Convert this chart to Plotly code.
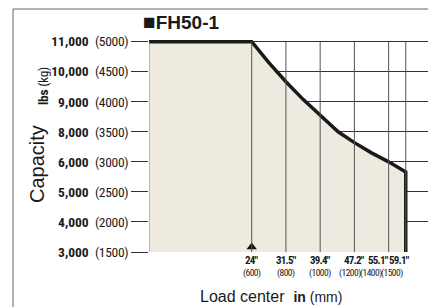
import plotly.graph_objects as go

# ---- data ----
load_center_mm = [0, 600, 700, 746, 800, 900, 1000, 1105, 1200, 1300, 1400, 1500, 1500]
capacity_kg = [5000, 5000, 4650, 4500, 4333, 4040, 3767, 3500, 3320, 3150, 3000, 2833, 1500]

x_ticks_mm = [600, 800, 1000, 1200, 1400, 1500]
x_ticks_in = ['24"', '31.5"', '39.4"', '47.2"', '55.1"', '59.1"']
# label nudges in px (crowded right-hand labels are shifted left, as in the original)
x_in_shift = [0, 1, 0, 0, -10.5, -6.5]
x_mm_shift = [0, 0, 0, -4, -17.5, -13.5]

y_ticks_kg = [5000, 4500, 4000, 3500, 3000, 2500, 2000, 1500]
y_ticks_lbs = ["11,000", "10,000", "9,000", "8,000", "6,000", "5,000", "4,000", "3,000"]

title_text = "FH50-1"

# page body has an 8px default margin: work in window pixels, shift by OFF
OFF = 8
W, H = 436 - OFF, 307 - OFF
L, T = 149 - OFF, 40 - OFF
R = W - (428 - OFF)
B = H - (252 - OFF)
Y_MIN, Y_MAX = 1500, 5028
X_MIN, X_MAX = 0, 1630

COND = "Roboto Condensed, DejaVu Sans Condensed, sans-serif"
SANS = "Liberation Sans, Arial, Helvetica, sans-serif"
INK = "#1a1a1a"

pw, ph = W - L - R, H - T - B


def px_x(p):
    return (p - OFF - L) / pw


def px_y(p):
    return (H - B - (p - OFF)) / ph


fig = go.Figure()

fig.add_trace(go.Scatter(
    x=load_center_mm, y=capacity_kg, mode="lines",
    line=dict(color=INK, width=3.5),
    fill="tozeroy", fillcolor="#EEEADF",
    hoverinfo="skip", showlegend=False,
))

tri_size = 9
fig.add_trace(go.Scatter(
    x=[x_ticks_mm[0]], y=[Y_MIN + (tri_size / 2 + 0.5) * (Y_MAX - Y_MIN) / ph],
    mode="markers", marker=dict(symbol="triangle-up", size=tri_size, color="#111"),
    cliponaxis=False, hoverinfo="skip", showlegend=False,
))

shapes = []
for xv in [X_MIN] + x_ticks_mm:
    shapes.append(dict(type="line", xref="x", yref="y", x0=xv, x1=xv,
                       y0=y_ticks_kg[-1], y1=y_ticks_kg[0],
                       line=dict(color="#555" if xv else "#888", width=1), layer="above"))
shapes.append(dict(type="rect", xref="paper", yref="paper",
                   x0=px_x(13), x1=px_x(450), y0=px_y(320), y1=px_y(9),
                   line=dict(color="#666", width=1), fillcolor="rgba(0,0,0,0)", layer="below"))

annotations = [
    dict(text='<b><span style="font-size:21px">■</span>' + title_text + "</b>",
         xref="paper", yref="paper",
         x=px_x(141), y=px_y(22), xanchor="left", yanchor="middle", showarrow=False,
         font=dict(family=SANS, size=19, color=INK)),
    dict(text="Capacity", xref="paper", yref="paper", x=px_x(37), y=px_y(164), textangle=-90,
         xanchor="center", yanchor="middle", showarrow=False,
         font=dict(family=SANS, size=20, color=INK)),
    dict(text='<span style="letter-spacing:-0.3px"><b>lbs</b> (kg)</span>',
         xref="paper", yref="paper", x=px_x(43), y=px_y(86), textangle=-90,
         xanchor="center", yanchor="middle", showarrow=False,
         font=dict(family=COND, size=13.5, color=INK)),
    dict(text='Load center&nbsp;&nbsp;<span style="font-size:14px"><b>in</b> (mm)</span>',
         xref="paper", yref="paper", x=px_x(198), y=px_y(296),
         xanchor="left", yanchor="middle", showarrow=False,
         font=dict(family=SANS, size=16, color=INK)),
]

for mm, inch, s1, s2 in zip(x_ticks_mm, x_ticks_in, x_in_shift, x_mm_shift):
    annotations.append(dict(
        text=f'<span style="letter-spacing:-0.8px"><b>{inch}</b></span>',
        xref="x", yref="paper", x=mm, y=px_y(260), xshift=s1,
        xanchor="center", yanchor="middle", showarrow=False,
        font=dict(family=COND, size=11, color=INK)))
    annotations.append(dict(
        text=f'<span style="letter-spacing:-0.5px">({mm})</span>',
        xref="x", yref="paper", x=mm, y=px_y(272.5), xshift=s2,
        xanchor="center", yanchor="middle", showarrow=False,
        font=dict(family=COND, size=9.5, color=INK)))

fig.update_layout(
    template="none",
    width=W, height=H,
    margin=dict(l=L, r=R, t=T, b=B, pad=0, autoexpand=False),
    paper_bgcolor="white", plot_bgcolor="white",
    shapes=shapes, annotations=annotations,
    xaxis=dict(range=[X_MIN, X_MAX], showgrid=False, zeroline=False, showline=False,
               automargin=False, showticklabels=False, ticks=""),
    yaxis=dict(range=[Y_MIN, Y_MAX], showgrid=True, gridcolor="#333", gridwidth=1,
               zeroline=False, showline=False, automargin=False,
               tickmode="array", tickvals=y_ticks_kg,
               ticktext=[f'<b>{a}</b>&nbsp;&nbsp;<span style="letter-spacing:-0.3px">({b})</span>'
                         for a, b in zip(y_ticks_lbs, y_ticks_kg)],
               ticks="outside", ticklen=17, tickcolor="#333", tickwidth=1,
               tickfont=dict(family=COND, size=13.5, color=INK)),
)

fig.write_html("out.html")
